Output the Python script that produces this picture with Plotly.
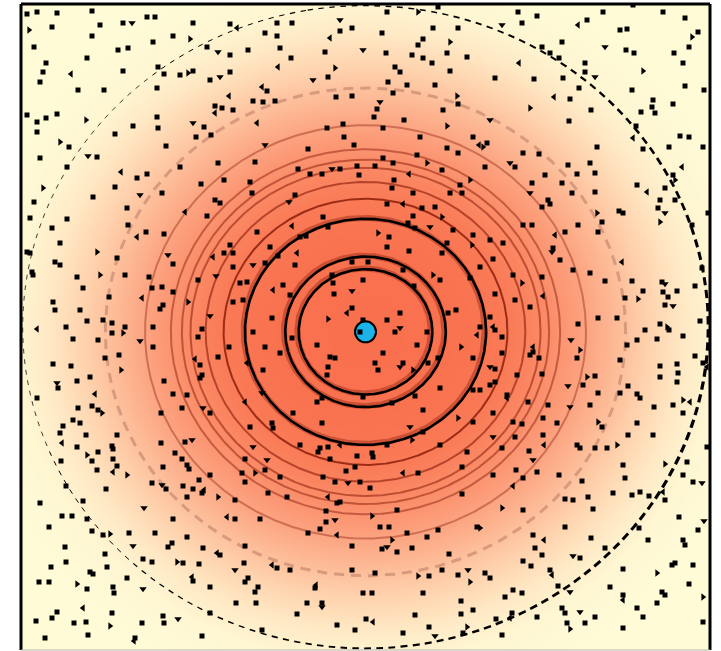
import numpy as np
import plotly.graph_objects as go

# ---------------- data ----------------
# Detected specks, recorded as (column, row) on the detector raster that spans
# the plotted window [-1, 1] x [-1, 1] (column 21..710, row 4..650).
RASTER_COL0, RASTER_COLS = 21, 689
RASTER_ROW0, RASTER_ROWS = 4, 646

speck_cells = [
    (27,14),(37,12),(57,13),(92,11),(29,30),(52,27),(100,25),(123,23),(132,23),(147,17),(155,17),(193,23),(230,24),(237,28),(34,47),(92,36),(153,42),(173,36),(190,39),(118,50),(128,48),(207,47),(218,52),(230,55),(87,58),(46,63),(43,72),(71,74),(123,71),(158,67),(164,74),(180,75),(188,73),(193,71),(230,72),(210,80),(220,77),(40,82),(78,90),(104,90),(157,88),(229,96),(27,115),(37,122),(46,118),(57,114),(86,120),(157,117),(133,126),(158,128),(193,123),(204,127),(215,106),(222,108),(233,110),(215,113),(37,132),(115,134),(196,137),(211,135),(60,142),(69,147),(166,146),(40,158),(88,156),(97,157),(218,163),(67,167),(180,167),(121,172),(137,178),(147,174),(201,184),(224,180),(43,188),(115,187),(34,202),(93,197),(140,195),(162,193),(215,200),(220,203),(127,208),(185,212),(207,216),(30,218),(67,219),
    (387,12),(418,12),(438,7),(277,23),(292,23),(340,20),(352,28),(340,31),(265,33),(277,36),(330,38),(382,33),(433,28),(458,28),(423,39),(450,42),(248,50),(280,48),(325,52),(363,50),(386,53),(418,45),(447,53),(291,58),(278,67),(412,55),(423,58),(432,63),(467,57),(335,68),(395,67),(400,72),(450,71),(313,80),(328,77),(388,82),(407,85),(435,85),(262,87),(267,91),(336,97),(352,96),(393,93),(457,96),(253,101),(263,102),(275,101),(380,102),(458,104),(377,109),(443,110),(374,117),(257,123),(327,128),(343,124),(383,128),(404,120),(447,126),(420,137),(473,137),(344,137),(265,145),(354,145),(308,149),(447,148),(458,153),(479,145),(255,162),(383,158),(393,163),(417,155),(427,163),(298,169),(310,174),(322,174),(332,169),(340,169),(357,166),(359,175),(375,166),(409,174),(442,170),(250,182),(394,180),(392,188),(470,180),(460,185),(252,193),(295,195),(289,202),(413,193),(450,193),(462,193),(387,204),(403,204),(422,208),(435,207),(323,217),(413,216),(442,217),
    (518,12),(537,16),(522,23),(502,25),(603,12),(633,5),(663,12),(685,18),(578,25),(587,20),(620,30),(627,29),(698,32),(692,37),(542,47),(562,42),(550,53),(605,47),(626,50),(634,53),(674,53),(689,47),(519,63),(559,58),(585,63),(683,63),(585,72),(643,71),(495,78),(534,79),(563,78),(595,77),(579,88),(685,86),(632,90),(704,90),(554,97),(570,99),(653,100),(652,107),(673,104),(530,108),(591,110),(641,112),(655,113),(490,120),(569,121),(636,126),(680,136),(689,137),(633,138),(597,147),(643,149),(669,147),(703,147),(483,147),(487,143),(523,153),(539,154),(510,163),(515,167),(485,167),(568,165),(590,163),(682,167),(545,175),(577,174),(595,173),(673,175),(675,180),(532,183),(562,183),(637,185),(530,193),(572,193),(595,192),(548,200),(550,204),(647,192),(665,188),(660,200),(675,200),(542,207),(597,213),(619,211),(623,213),(658,208),(665,213),(708,213),
    (52,228),(128,225),(146,232),(137,237),(164,234),(60,243),(27,252),(30,253),(97,252),(55,262),(60,265),(117,258),(168,255),(173,264),(230,245),(224,253),(233,253),(213,257),(233,267),(32,272),(33,275),(77,277),(100,275),(125,275),(149,277),(198,280),(216,276),(83,288),(152,288),(162,287),(173,292),(142,298),(109,297),(163,305),(160,309),(53,302),(188,302),(233,302),(80,310),(55,310),(210,316),(87,321),(103,320),(112,323),(125,327),(37,329),(66,327),(153,327),(202,329),(112,333),(123,333),(98,340),(73,339),(198,337),(140,341),(153,347),(229,347),(119,355),(105,358),(195,359),(200,365),(218,357),(53,364),(71,366),(121,370),(90,377),(202,375),(200,378),(57,383),(58,388),(77,381),(164,381),(37,398),(95,394),(173,394),(187,395),(78,408),(98,410),(102,413),(92,406),(161,413),(182,408),(203,408),(210,413),(73,420),(80,423),(63,426),
    (292,226),(257,232),(300,237),(306,236),(328,227),(378,233),(389,237),(408,223),(415,228),(430,227),(453,230),(473,235),(447,243),(270,247),(297,253),(278,256),(387,247),(409,251),(442,253),(472,245),(352,262),(368,262),(265,263),(253,265),(295,265),(247,282),(240,283),(283,285),(273,290),(332,275),(333,283),(363,280),(403,270),(433,275),(440,280),(470,278),(334,294),(352,291),(414,286),(243,300),(272,318),(290,295),(347,313),(352,308),(400,313),(456,310),(448,313),(328,319),(387,320),(363,320),(395,332),(400,328),(427,332),(253,332),(292,338),(360,332),(477,335),(265,347),(317,345),(280,353),(417,345),(461,347),(330,357),(335,358),(383,353),(400,367),(403,363),(438,358),(375,363),(378,370),(247,363),(328,367),(473,358),(428,363),(263,370),(413,370),(327,375),(440,388),(473,390),(262,393),(317,402),(322,398),(363,397),(415,396),(245,402),(392,403),(423,410),(293,413),(473,422),(458,418),(272,423),(273,428),(322,423),(410,427),(423,432),(250,427),
    (523,225),(532,225),(555,235),(565,232),(578,225),(598,232),(602,222),(660,222),(692,225),(490,240),(503,243),(552,252),(553,248),(560,260),(493,259),(480,267),(622,262),(513,275),(542,277),(573,270),(590,273),(522,283),(605,281),(632,281),(662,282),(665,284),(702,268),(695,286),(495,294),(515,300),(543,296),(643,291),(663,292),(677,291),(625,298),(638,299),(668,297),(665,305),(530,307),(673,306),(490,317),(598,318),(617,318),(700,321),(493,327),(495,330),(578,324),(645,330),(660,324),(667,327),(669,330),(480,327),(502,337),(571,340),(637,340),(657,339),(683,336),(627,345),(533,347),(530,355),(533,352),(502,353),(539,358),(580,350),(577,358),(695,356),(620,360),(490,367),(495,369),(660,366),(677,364),(703,363),(707,367),(517,375),(542,374),(495,382),(490,385),(587,377),(595,376),(678,373),(660,377),(568,386),(583,385),(628,386),(480,390),(507,395),(507,398),(598,393),(637,394),(640,398),(620,393),(683,400),(677,382),(548,405),(528,402),(570,407),(590,405),(654,407),(673,405),(683,413),(690,402),(493,413),(513,422),(543,418),(557,423),(598,422),(602,427),(637,423),(522,424),
    (493,437),(502,448),(515,437),(529,451),(543,435),(544,445),(577,445),(580,448),(595,448),(607,448),(617,445),(628,435),(653,435),(707,447),(533,460),(516,470),(493,475),(537,472),(523,478),(513,486),(559,475),(582,481),(623,465),(625,478),(665,464),(687,462),(683,475),(693,482),(702,483),(613,493),(632,495),(640,492),(649,496),(663,492),(665,500),(565,499),(573,500),(588,497),(502,508),(523,510),(593,509),(679,517),(704,521),(565,527),(639,528),(698,530),(533,535),(544,540),(591,538),(648,540),(683,540),(685,545),(480,528),(535,548),(542,555),(605,548),(573,556),(580,558),(523,561),(531,566),(550,570),(552,575),(672,565),(675,563),(693,565),(623,569),(657,573),(485,573),(490,578),(558,586),(570,592),(610,587),(513,590),(522,593),(623,595),(623,600),(662,592),(665,595),(689,584),(505,597),(703,597),(657,603),(562,608),(565,613),(580,612),(595,617),(637,608),(643,617),(512,613),(510,618),(537,617),(496,619),(585,623),(567,623),(570,629),(703,622),(623,628),(502,635),
    (253,447),(300,445),(320,448),(318,452),(328,447),(340,445),(357,456),(372,453),(373,457),(387,445),(412,440),(440,445),(467,452),(245,459),(267,460),(265,470),(330,459),(346,471),(355,467),(403,473),(418,473),(462,467),(242,473),(245,482),(255,473),(280,477),(323,477),(335,482),(348,483),(360,482),(370,488),(268,493),(287,497),(328,497),(337,503),(340,502),(462,494),(326,511),(372,516),(397,510),(260,519),(326,522),(335,520),(380,527),(389,527),(320,529),(308,533),(337,535),(407,533),(438,530),(477,527),(427,537),(392,540),(245,546),(352,546),(382,549),(387,547),(397,552),(412,548),(449,554),(244,563),(272,565),(277,568),(290,570),(352,570),(375,573),(418,576),(429,576),(442,570),(458,575),(468,570),(245,582),(248,578),(258,587),(255,592),(316,585),(315,588),(363,593),(372,593),(423,593),(470,582),(256,603),(307,603),(322,603),(322,607),(461,601),(473,610),(297,614),(366,619),(373,622),(415,615),(461,614),(337,625),(429,627),(467,627),(262,630),(355,630),(403,633),(435,636),(463,633),
    (60,433),(86,435),(117,435),(62,443),(77,447),(112,446),(113,449),(98,452),(87,455),(92,461),(161,443),(185,442),(192,440),(175,453),(61,461),(113,459),(117,466),(113,472),(97,470),(182,459),(187,465),(163,467),(127,475),(189,469),(210,475),(152,483),(162,485),(166,489),(183,486),(193,489),(199,480),(204,490),(202,493),(66,486),(106,489),(187,497),(218,497),(235,500),(40,503),(83,501),(144,508),(62,516),(72,516),(87,519),(173,519),(227,517),(235,519),(49,527),(92,531),(103,535),(110,534),(129,533),(155,533),(187,537),(133,546),(168,547),(172,543),(203,548),(220,555),(217,553),(65,547),(105,554),(143,559),(152,562),(177,562),(183,563),(66,562),(199,564),(235,570),(51,567),(107,567),(90,572),(93,574),(192,577),(193,581),(127,578),(39,582),(49,582),(77,584),(87,589),(113,587),(114,593),(143,589),(210,587),(236,603),(57,612),(52,618),(83,608),(112,613),(36,621),(74,623),(86,622),(110,626),(142,623),(163,616),(164,623),(178,619),(210,613),(88,635),(45,638),(135,638),(134,641),(202,636),
]

source_x, source_y = 0.0, -0.015          # blue source position
boundary_radius = 0.995                   # dashed outer boundary (centred on origin)
halo_radius = 0.755                       # faded dashed ring around source
contour_radii = [0.64, 0.565, 0.533, 0.508, 0.464, 0.412]
contour_alpha = [0.40, 0.48, 0.52, 0.56, 0.62, 0.85]
core_radii = [0.35, 0.233, 0.194]

# background glow: distance from source -> colour
glow_stops = [0.00, 0.30, 0.42, 0.52, 0.62, 0.72, 0.82, 0.92, 1.02, 1.15, 1.45]
glow_colors = ["#f96f4d", "#f97350", "#fa7b57", "#fb8a66", "#fc9f7c", "#fdb894",
               "#fed2ad", "#ffe8c4", "#fff6d2", "#fffbd7", "#fffbd7"]

# ---------------- figure ----------------
W, H = 721, 651
ML, MR, MT, MB = 21, 11, 4, 1
SX = (W - ML - MR) / 2.0   # px per unit (x)
SY = (H - MT - MB) / 2.0   # px per unit (y)

fig = go.Figure()

# glow background
gx = np.linspace(-1, 1, 321)
gy = np.linspace(-1, 1, 321)
GX, GY = np.meshgrid(gx, gy)
GZ = np.hypot(GX - source_x, GY - source_y)
zmax = glow_stops[-1]
fig.add_trace(go.Heatmap(
    x=gx, y=gy, z=GZ, zmin=0, zmax=zmax, zsmooth="best", showscale=False,
    hoverinfo="skip",
    colorscale=[[s / zmax, c] for s, c in zip(glow_stops, glow_colors)],
))

theta = np.linspace(0, 2 * np.pi, 721)


def ring(cx, cy, r):
    return cx + r * np.cos(theta), cy + r * np.sin(theta)


# faded dashed ring
hx, hy = ring(source_x, source_y, halo_radius)
fig.add_trace(go.Scatter(x=hx, y=hy, mode="lines", hoverinfo="skip",
                         line=dict(color="rgba(185,120,100,0.55)", width=3, dash="10px,7px")))

# contour rings
for r, a in zip(contour_radii, contour_alpha):
    cx_, cy_ = ring(source_x, source_y, r)
    fig.add_trace(go.Scatter(x=cx_, y=cy_, mode="lines", hoverinfo="skip",
                             line=dict(color=f"rgba(140,30,12,{a})", width=2)))

# core rings with dark halo
for r in core_radii:
    cx_, cy_ = ring(source_x - 0.004, source_y + 0.003, r)
    fig.add_trace(go.Scatter(x=cx_, y=cy_, mode="lines", hoverinfo="skip",
                             line=dict(color="rgba(120,15,0,0.35)", width=6)))
    cx_, cy_ = ring(source_x, source_y, r)
    fig.add_trace(go.Scatter(x=cx_, y=cy_, mode="lines", hoverinfo="skip",
                             line=dict(color="black", width=2.6)))

# tapered dashed boundary: width grows toward lower right
theta_peak = np.deg2rad(-15)


def width_at(t):
    return 0.8 + 2.4 * ((1 + np.cos(t - theta_peak)) / 2) ** 1.5


groups = {}
dt = 2 * np.pi / 8000
t = np.deg2rad(100)
t_end = t + 2 * np.pi
on, acc, cur = True, 0.0, [t]
while t < t_end:
    w = width_at(t)
    dash_len = 1.5 * w + 3.5
    gap_len = 6.0 - 0.4 * w
    ds = boundary_radius * np.hypot(SX * np.sin(t), SY * np.cos(t)) * dt
    acc += ds
    t += dt
    if on:
        cur.append(t)
        if acc >= dash_len:
            tm = 0.5 * (cur[0] + cur[-1])
            wq = round(width_at(tm) * 4) / 4
            groups.setdefault(wq, []).append(np.array(cur))
            on, acc, cur = False, 0.0, []
    else:
        if acc >= gap_len:
            on, acc, cur = True, 0.0, [t]

for wq, segs in sorted(groups.items()):
    xs, ys = [], []
    for s in segs:
        xs.extend(list(boundary_radius * np.cos(s)) + [None])
        ys.extend(list(boundary_radius * np.sin(s)) + [None])
    fig.add_trace(go.Scatter(x=xs, y=ys, mode="lines", hoverinfo="skip",
                             line=dict(color="black", width=wq)))

# source
fig.add_trace(go.Scatter(x=[source_x], y=[source_y], mode="markers", hoverinfo="skip",
                         marker=dict(size=21, color="#1cb4e8", opacity=1,
                                     line=dict(color="black", width=2))))

# specks
cols = np.array([c for c, _ in speck_cells], dtype=float)
rows = np.array([r for _, r in speck_cells], dtype=float)
spx = -1 + 2 * (cols - RASTER_COL0) / RASTER_COLS
spy = 1 - 2 * (rows - RASTER_ROW0) / RASTER_ROWS
shape_cycle = ["square", "square", "square", "square", "triangle-right", "square",
               "square", "square", "triangle-down", "square", "square", "square",
               "square", "triangle-left"]
symbols = [shape_cycle[i % len(shape_cycle)] for i in range(len(speck_cells))]
sizes = [5 if s == "square" else 6.5 for s in symbols]
fig.add_trace(go.Scatter(x=spx, y=spy, mode="markers", hoverinfo="skip",
                         marker=dict(size=sizes, color="black", opacity=1, symbol=symbols,
                                     line=dict(width=0))))

# frame
frame = [
    dict(x0=0, x1=0, y0=0, y1=1, color="black", width=3),
    dict(x0=0, x1=1, y0=1, y1=1, color="black", width=3),
    dict(x0=1, x1=1, y0=0, y1=1, color="black", width=3),
    dict(x0=0, x1=1, y0=0, y1=0, color="#b4b4aa", width=1),
]
for f in frame:
    fig.add_shape(type="line", xref="paper", yref="paper", x0=f["x0"], x1=f["x1"],
                  y0=f["y0"], y1=f["y1"], line=dict(color=f["color"], width=f["width"]),
                  layer="above")

fig.update_layout(
    width=W, height=H, margin=dict(l=ML, r=MR, t=MT, b=MB),
    paper_bgcolor="white", plot_bgcolor="#fffbd7", showlegend=False,
    xaxis=dict(range=[-1, 1], visible=False, fixedrange=True),
    yaxis=dict(range=[-1, 1], visible=False, fixedrange=True),
)

fig.write_html("out.html", config={"displayModeBar": False},
               post_script="document.body.style.margin='0';document.body.style.overflow='hidden';")
